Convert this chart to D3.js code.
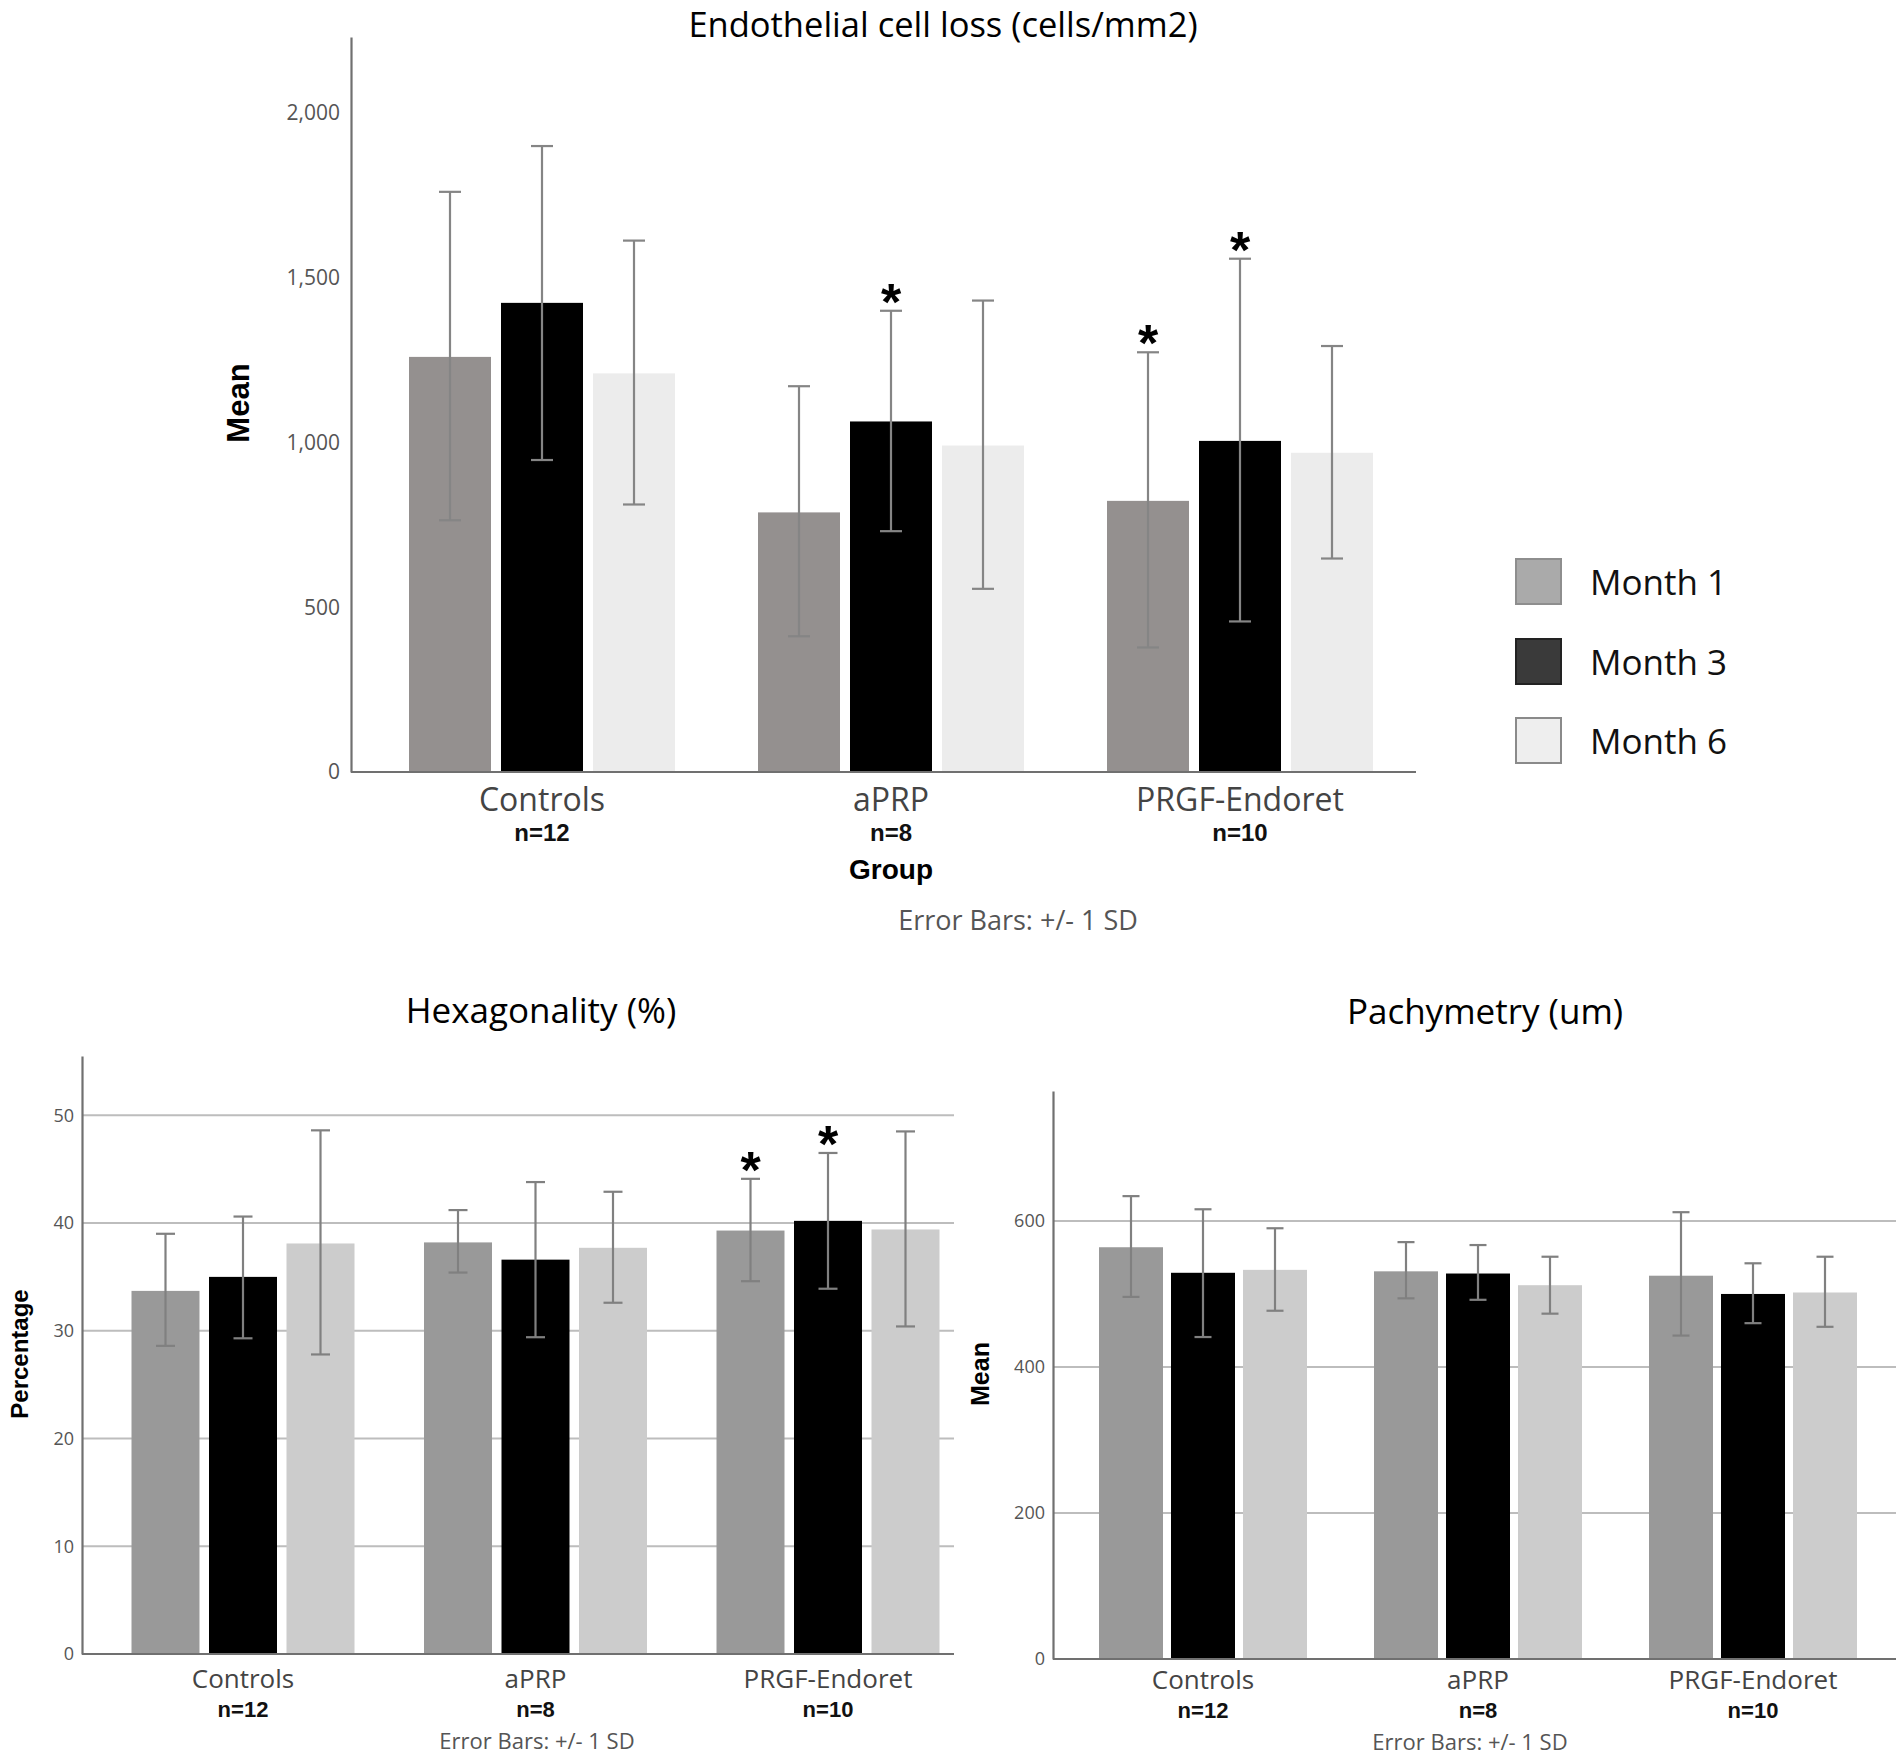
<!DOCTYPE html>
<html>
<head>
<meta charset="utf-8">
<script src="https://cdn.jsdelivr.net/npm/d3@7"></script>
<style>
  html, body { margin: 0; padding: 0; background: #fff; }
  text { font-family: "Open Sans", "Noto Sans", sans-serif; }
</style>
</head>
<body>
<script>
// ---------------- DATA ----------------
const groups = ["Controls", "aPRP", "PRGF-Endoret"];
const nLabels = ["n=12", "n=8", "n=10"];
const months = ["Month 1", "Month 3", "Month 6"];

// Endothelial cell loss (cells/mm2): rows = groups, cols = months
const ecdMean = [[1260, 1424, 1210], [788, 1064, 991], [823, 1005, 969]];
const ecdLow  = [[764, 947, 812], [412, 731, 556], [378, 457, 648]];
const ecdHigh = [[1761, 1900, 1613], [1171, 1400, 1431], [1274, 1558, 1293]];
const ecdStars = [[0, 0, 0], [0, 1, 0], [1, 1, 0]];
const ecdTicks = [0, 500, 1000, 1500, 2000];

// Hexagonality (%)
const hexMean = [[33.7, 35.0, 38.1], [38.2, 36.6, 37.7], [39.3, 40.2, 39.4]];
const hexLow  = [[28.6, 29.3, 27.8], [35.4, 29.4, 32.6], [34.6, 33.9, 30.4]];
const hexHigh = [[39.0, 40.6, 48.6], [41.2, 43.8, 42.9], [44.1, 46.5, 48.5]];
const hexStars = [[0, 0, 0], [0, 0, 0], [1, 1, 0]];
const hexTicks = [0, 10, 20, 30, 40, 50];

// Pachymetry (um)
const pacMean = [[564, 529, 533], [531, 528, 512], [525, 500, 502]];
const pacLow  = [[496, 441, 477], [494, 492, 473], [443, 460, 455]];
const pacHigh = [[634, 616, 590], [571, 567, 551], [612, 542, 551]];
const pacStars = [[0, 0, 0], [0, 0, 0], [0, 0, 0]];
const pacTicks = [0, 200, 400, 600];

// ---------------- DRAW ----------------
const W = 1902, H = 1755;
const svg = d3.select("body").append("svg")
  .attr("width", W).attr("height", H)
  .style("background", "#fff");

function drawPanel(p, means, lows, highs, stars, ticks) {
  const g = svg.append("g");
  const y = d3.scaleLinear().domain([0, p.yMax]).range([p.base, p.top]);
  const x0 = d3.scaleBand().domain(groups).range(p.bandRange).padding(0);
  const gap = p.barStep - p.barW;
  const inner = 3 * p.barW + 2 * gap;
  const x1 = d3.scaleBand().domain(months).range([-inner / 2, inner / 2])
    .paddingInner(gap / p.barStep).paddingOuter(0);

  // gridlines
  if (p.grid) {
    g.selectAll("line.grid").data(ticks.filter(v => v > 0)).join("line")
      .attr("class", "grid")
      .attr("x1", p.axisX).attr("x2", p.right)
      .attr("y1", d => y(d)).attr("y2", d => y(d))
      .attr("stroke", "#bdbdbd").attr("stroke-width", 2);
  }

  const rows = groups.flatMap((gn, i) => months.map((m, j) => ({
    g: gn, m, j, v: means[i][j], lo: lows[i][j], hi: highs[i][j], star: stars[i][j]
  })));
  const bx = d => x0(d.g) + x0.bandwidth() / 2 + x1(d.m);
  const cx = d => bx(d) + x1.bandwidth() / 2;

  g.selectAll("rect.bar").data(rows).join("rect")
    .attr("class", "bar")
    .attr("x", bx).attr("width", x1.bandwidth())
    .attr("y", d => y(d.v)).attr("height", d => y(0) - y(d.v))
    .attr("fill", d => p.colors[d.j]);

  // error bars
  const eb = g.selectAll("g.err").data(rows).join("g").attr("class", "err")
    .attr("stroke", p.errColor).attr("stroke-width", 2.2);
  eb.append("line").attr("x1", cx).attr("x2", cx).attr("y1", d => y(d.lo)).attr("y2", d => y(d.hi));
  eb.append("line").attr("x1", d => cx(d) - p.cap / 2).attr("x2", d => cx(d) + p.cap / 2)
    .attr("y1", d => y(d.hi)).attr("y2", d => y(d.hi));
  eb.append("line").attr("x1", d => cx(d) - p.cap / 2).attr("x2", d => cx(d) + p.cap / 2)
    .attr("y1", d => y(d.lo)).attr("y2", d => y(d.lo));

  // significance stars
  g.selectAll("text.star").data(rows.filter(d => d.star)).join("text")
    .attr("class", "star")
    .attr("x", cx).attr("y", d => y(d.hi) + p.starDy)
    .attr("text-anchor", "middle")
    .style("font-family", "'Liberation Sans', Arial, sans-serif")
    .style("font-weight", "bold")
    .style("font-size", p.starSize + "px")
    .attr("fill", "#000").text("*");

  // y axis
  const ya = g.append("g").attr("transform", `translate(${p.axisX},0)`)
    .call(d3.axisLeft(y).tickValues(ticks).tickSize(0).tickSizeOuter(0)
      .tickPadding(p.tickPad).tickFormat(p.fmt));
  ya.select(".domain").attr("stroke", "#707070").attr("stroke-width", 2.2);
  ya.selectAll(".tick text").style("font-family", "'Open Sans', sans-serif")
    .style("font-size", p.tickSize + "px").attr("fill", "#555");

  // x baseline
  g.append("line").attr("x1", p.axisX).attr("x2", p.right)
    .attr("y1", y(0)).attr("y2", y(0))
    .attr("stroke", "#707070").attr("stroke-width", 2.2);

  // category labels
  g.selectAll("text.cat").data(groups).join("text").attr("class", "cat")
    .attr("x", d => x0(d) + x0.bandwidth() / 2).attr("y", p.catY)
    .attr("text-anchor", "middle").style("font-size", p.catSize + "px")
    .attr("fill", "#444").text(d => d);
  g.selectAll("text.n").data(nLabels).join("text").attr("class", "n")
    .attr("x", (d, i) => x0(groups[i]) + x0.bandwidth() / 2).attr("y", p.nY)
    .attr("text-anchor", "middle")
    .style("font-family", "'Liberation Sans', Arial, sans-serif")
    .style("font-weight", "bold").style("font-size", p.nSize + "px")
    .attr("fill", "#111").text(d => d);

  // y title
  g.append("text")
    .attr("transform", `translate(${p.yLabX},${p.yLabY}) rotate(-90)`)
    .attr("text-anchor", "middle").attr("dominant-baseline", "central")
    .style("font-family", "'Liberation Sans', Arial, sans-serif")
    .style("font-weight", "bold").style("font-size", p.yLabSize + "px")
    .attr("fill", "#000").text(p.yLabel);

  // chart title
  g.append("text").attr("x", p.titleX).attr("y", p.titleY)
    .attr("text-anchor", "middle").style("font-size", p.titleSize + "px")
    .attr("fill", "#000").text(p.title);

  // error note
  g.append("text").attr("x", p.noteX).attr("y", p.noteY)
    .attr("text-anchor", "middle").style("font-size", p.noteSize + "px")
    .attr("fill", "#555").text("Error Bars: +/- 1 SD");

  if (p.xTitle) {
    g.append("text").attr("x", p.xTitleX).attr("y", p.xTitleY)
      .attr("text-anchor", "middle")
      .style("font-family", "'Liberation Sans', Arial, sans-serif")
      .style("font-weight", "bold").style("font-size", p.xTitleSize + "px")
      .attr("fill", "#000").text(p.xTitle);
  }
}

// Top panel
drawPanel({
  title: "Endothelial cell loss (cells/mm2)", titleX: 943, titleY: 37, titleSize: 34.5,
  axisX: 351, top: 37, base: 772, right: 1416, yMax: 2231,
  bandRange: [367.5, 1414.5], barW: 82, barStep: 92,
  colors: ["#94908f", "#000000", "#ececec"], grid: false,
  errColor: "#858585", cap: 22,
  fmt: d3.format(","), tickSize: 21, tickPad: 11,
  catY: 811, catSize: 32, nY: 841, nSize: 24,
  yLabel: "Mean", yLabX: 238, yLabY: 403, yLabSize: 31,
  xTitle: "Group", xTitleX: 891, xTitleY: 879, xTitleSize: 28,
  noteX: 1018, noteY: 930, noteSize: 27,
  starDy: 9, starSize: 52
}, ecdMean, ecdLow, ecdHigh, ecdStars, ecdTicks);

// Bottom-left panel
drawPanel({
  title: "Hexagonality (%)", titleX: 541, titleY: 1023, titleSize: 35,
  axisX: 82, top: 1056, base: 1654, right: 954, yMax: 55.5,
  bandRange: [96.75, 974.25], barW: 68, barStep: 77.5,
  colors: ["#999999", "#000000", "#cccccc"], grid: true,
  errColor: "#808080", cap: 19,
  fmt: d3.format("d"), tickSize: 18, tickPad: 8,
  catY: 1688, catSize: 26, nY: 1717, nSize: 22,
  yLabel: "Percentage", yLabX: 19, yLabY: 1354, yLabSize: 24,
  noteX: 537, noteY: 1749, noteSize: 22,
  starDy: 9, starSize: 52
}, hexMean, hexLow, hexHigh, hexStars, hexTicks);

// Bottom-right panel
drawPanel({
  title: "Pachymetry (um)", titleX: 1485, titleY: 1024, titleSize: 35,
  axisX: 1053, top: 1091, base: 1659, right: 1896, yMax: 778,
  bandRange: [1065.5, 1890.5], barW: 64, barStep: 72,
  colors: ["#999999", "#000000", "#cccccc"], grid: true,
  errColor: "#808080", cap: 17,
  fmt: d3.format("d"), tickSize: 18, tickPad: 8,
  catY: 1689, catSize: 26, nY: 1718, nSize: 22,
  yLabel: "Mean", yLabX: 980, yLabY: 1374, yLabSize: 25,
  noteX: 1470, noteY: 1750, noteSize: 22,
  starDy: 9, starSize: 52
}, pacMean, pacLow, pacHigh, pacStars, pacTicks);

// Legend
const legendColors = ["#aaaaaa", "#3a3a3a", "#eeeeee"];
const legendStroke = ["#8e8e8e", "#222222", "#8a8a8a"];
const legendY = [559, 639, 718];
const lg = svg.append("g");
lg.selectAll("rect").data(months).join("rect")
  .attr("x", 1516).attr("y", (d, i) => legendY[i])
  .attr("width", 45).attr("height", 45)
  .attr("fill", (d, i) => legendColors[i])
  .attr("stroke", (d, i) => legendStroke[i]).attr("stroke-width", 2);
lg.selectAll("text").data(months).join("text")
  .attr("x", 1590).attr("y", (d, i) => legendY[i] + 36)
  .style("font-size", "35px").attr("fill", "#111").text(d => d);
</script>
</body>
</html>
